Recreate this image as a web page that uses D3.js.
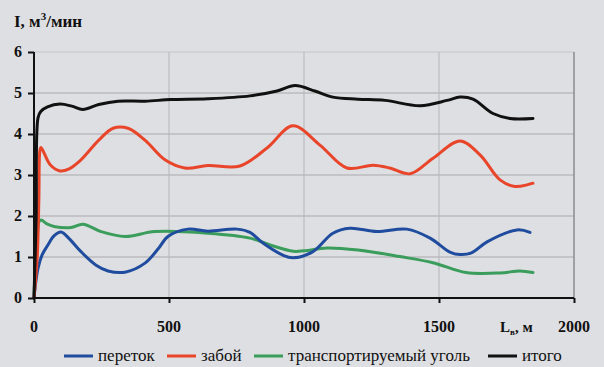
<!DOCTYPE html>
<html>
<head>
<meta charset="utf-8">
<script src="https://cdn.jsdelivr.net/npm/d3@7"></script>
<style>
  html, body { margin: 0; padding: 0; background: #dedfe2; }
  svg { display: block; }
</style>
</head>
<body>
<svg id="chart" width="604" height="367"></svg>
<script>
// Длина выработки L, м и дебит метана I, м3/мин
const xTicks = [0, 500, 1000, 1500, 2000];
const yTicks = [0, 1, 2, 3, 4, 5, 6];

const seriesNames = ["переток", "забой", "транспортируемый уголь", "итого"];
const seriesColors = ["#1f4c9e", "#e8452b", "#3a9d5b", "#111111"];

const peretokX = [0, 5, 15, 30, 52, 75, 100, 130, 174, 230, 274, 337, 411, 460, 496, 570, 644, 752, 800, 848, 920, 959, 1033, 1107, 1170, 1270, 1381, 1467, 1540, 1578, 1620, 1678, 1789, 1837];
const peretokY = [0, 0.3, 0.73, 1.05, 1.3, 1.52, 1.61, 1.45, 1.13, 0.8, 0.66, 0.63, 0.85, 1.2, 1.5, 1.68, 1.63, 1.68, 1.6, 1.34, 1.05, 0.98, 1.13, 1.58, 1.7, 1.62, 1.68, 1.46, 1.12, 1.06, 1.1, 1.37, 1.66, 1.6];

const zaboyX = [0, 12, 18, 22, 26, 60, 96, 130, 174, 240, 293, 348, 411, 485, 559, 644, 763, 863, 959, 1059, 1159, 1256, 1318, 1393, 1478, 1578, 1652, 1726, 1781, 1848];
const zaboyY = [0, 1.0, 2.4, 3.6, 3.67, 3.25, 3.1, 3.15, 3.37, 3.85, 4.14, 4.14, 3.85, 3.37, 3.17, 3.23, 3.22, 3.66, 4.2, 3.73, 3.17, 3.24, 3.17, 3.03, 3.41, 3.83, 3.49, 2.88, 2.72, 2.8];

const uqolX = [0, 10, 18, 26, 50, 78, 137, 181, 248, 337, 448, 644, 800, 880, 960, 1000, 1085, 1200, 1355, 1478, 1600, 1726, 1800, 1848];
const uqolY = [0.1, 1.2, 1.85, 1.9, 1.8, 1.74, 1.72, 1.8, 1.62, 1.5, 1.62, 1.58, 1.46, 1.28, 1.14, 1.15, 1.22, 1.17, 1.01, 0.86, 0.62, 0.61, 0.66, 0.62];

const itogoX = [0, 8, 15, 25, 50, 96, 140, 181, 240, 311, 411, 507, 644, 800, 900, 967, 1040, 1107, 1200, 1300, 1430, 1530, 1578, 1626, 1700, 1763, 1848];
const itogoY = [0, 2.0, 4.4, 4.55, 4.66, 4.73, 4.68, 4.6, 4.72, 4.8, 4.8, 4.84, 4.86, 4.93, 5.05, 5.18, 5.05, 4.9, 4.85, 4.82, 4.69, 4.82, 4.9, 4.85, 4.5, 4.38, 4.38];

const seriesX = [peretokX, zaboyX, uqolX, itogoX];
const seriesY = [peretokY, zaboyY, uqolY, itogoY];

const FONT = '"Liberation Serif", serif';

const svg = d3.select("#chart");
const plot = { left: 34, right: 574, top: 52, bottom: 298 };

const x = d3.scaleLinear().domain([0, 2000]).range([plot.left, plot.right]);
const y = d3.scaleLinear().domain([0, 6]).range([plot.bottom, plot.top]);

// сетка
svg.append("g").selectAll("line").data(yTicks.slice(1)).join("line")
  .attr("x1", plot.left).attr("x2", plot.right)
  .attr("y1", d => y(d)).attr("y2", d => y(d))
  .attr("stroke", d => d === 6 ? "#c4c5c8" : "#a9aaad").attr("stroke-width", 1.2);
svg.append("g").selectAll("line").data(xTicks.slice(1)).join("line")
  .attr("x1", d => x(d)).attr("x2", d => x(d))
  .attr("y1", plot.top).attr("y2", plot.bottom)
  .attr("stroke", d => d === 2000 ? "#8a8b8e" : "#b4b5b8").attr("stroke-width", d => d === 2000 ? 1.5 : 1);

// кривые
const line = d3.line().curve(d3.curveCatmullRom.alpha(0.5));
const order = [2, 0, 1, 3];
order.forEach(i => {
  const pts = seriesX[i].map((v, k) => [x(v), y(seriesY[i][k])]);
  svg.append("path")
    .attr("d", line(pts))
    .attr("fill", "none")
    .attr("stroke", seriesColors[i])
    .attr("stroke-width", 3)
    .attr("stroke-linejoin", "round")
    .attr("stroke-linecap", "round");
});

// оси
const xAxis = d3.axisBottom(x).tickValues(xTicks).tickSize(5).tickFormat(() => "");
const gx = svg.append("g").attr("transform", `translate(0,${plot.bottom})`).call(xAxis);
gx.select(".domain").attr("stroke", "#111").attr("stroke-width", 2).attr("d", `M${plot.left},0H${plot.right}`);
gx.selectAll(".tick line").attr("stroke", "#111").attr("stroke-width", 2);

const yAxis = d3.axisLeft(y).tickValues(yTicks).tickSize(6).tickFormat(() => "");
const gy = svg.append("g").attr("transform", `translate(${plot.left},0)`).call(yAxis);
gy.select(".domain").attr("stroke", "#111").attr("stroke-width", 2).attr("d", `M0,${plot.top}V${plot.bottom}`);
gy.selectAll(".tick line").attr("stroke", "#111").attr("stroke-width", 2);

// подписи делений
svg.append("g").selectAll("text").data(xTicks).join("text")
  .attr("x", d => x(d)).attr("y", 332)
  .attr("text-anchor", "middle")
  .style("font-family", FONT).attr("fill", "#111")
  .attr("font-size", 16).attr("font-weight", "bold")
  .text(d => d);
svg.append("g").selectAll("text").data(yTicks).join("text")
  .attr("x", 22).attr("y", d => y(d) + 5)
  .attr("text-anchor", "end")
  .style("font-family", FONT).attr("fill", "#111")
  .attr("font-size", 16).attr("font-weight", "bold")
  .text(d => d);

// названия осей
const yTitle = svg.append("text").attr("x", 14).attr("y", 27)
  .style("font-family", FONT).attr("fill", "#111")
  .attr("font-size", 17).attr("font-weight", "bold");
yTitle.append("tspan").text("I, м");
yTitle.append("tspan").attr("dy", -7).attr("font-size", 11).text("3");
yTitle.append("tspan").attr("dy", 7).text("/мин");

const xTitle = svg.append("text").attr("x", 500).attr("y", 332)
  .style("font-family", FONT).attr("fill", "#111")
  .attr("font-size", 15).attr("font-weight", "bold");
xTitle.append("tspan").text("L");
xTitle.append("tspan").attr("dy", 3).attr("font-size", 9).text("в");
xTitle.append("tspan").attr("dy", -3).text(", м");

// легенда
const legendPos = [64, 167, 254, 488];
const lg = svg.append("g");
seriesNames.forEach((name, i) => {
  const lx = legendPos[i];
  lg.append("line").attr("x1", lx).attr("x2", lx + 29).attr("y1", 356).attr("y2", 356)
    .attr("stroke", seriesColors[i]).attr("stroke-width", 3);
  lg.append("text").attr("x", lx + 34).attr("y", 361)
    .style("font-family", FONT).attr("fill", "#111")
    .attr("font-size", 17).text(name);
});
</script>
</body>
</html>
